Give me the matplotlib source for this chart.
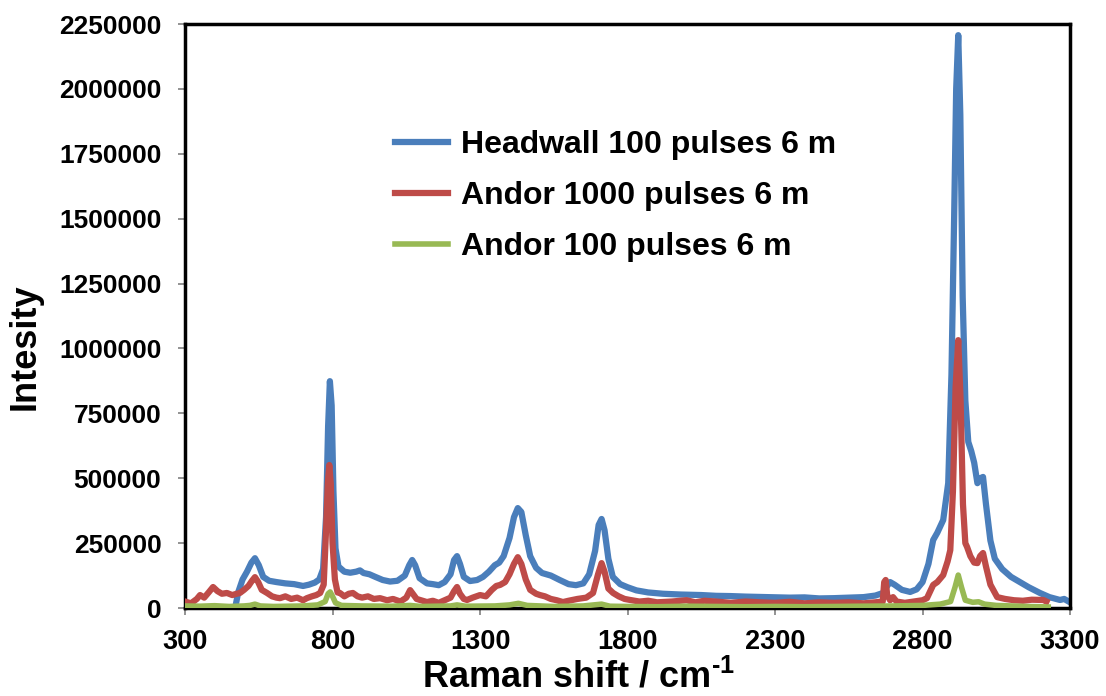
import matplotlib.pyplot as plt
from matplotlib.ticker import FuncFormatter

plt.rcParams['font.family'] = ['Liberation Sans', 'DejaVu Sans']
plt.rcParams['font.weight'] = 'bold'
plt.rcParams['mathtext.fontset'] = 'custom'
plt.rcParams['mathtext.rm'] = 'Liberation Sans:bold'
plt.rcParams['mathtext.bf'] = 'Liberation Sans:bold'

# Spectra, Raman shift (cm-1) and intensity (thousands of counts)
headwall_x = [300, 350, 400, 450, 470, 480, 495, 510, 525, 537, 550, 565, 585, 610, 640, 670,
              700, 720, 740, 755, 768, 778, 785, 791, 797, 803, 810, 820, 840, 860, 880, 893,
              905, 925, 945, 970, 995, 1020, 1045, 1060, 1070, 1080, 1095, 1120, 1140, 1160,
              1180, 1200, 1212, 1222, 1232, 1245, 1266, 1290, 1310, 1330, 1350, 1365, 1380,
              1400, 1415, 1428, 1440, 1455, 1470, 1490, 1510, 1540, 1570, 1600, 1625, 1650,
              1670, 1690, 1702, 1712, 1722, 1735, 1750, 1775, 1800, 1830, 1870, 1920, 1980,
              2050, 2100, 2150, 2200, 2273, 2350, 2400, 2450, 2500, 2550, 2600, 2640, 2666,
              2680, 2690, 2705, 2730, 2758, 2780, 2800, 2820, 2836, 2850, 2870, 2887, 2898,
              2907, 2914, 2921, 2928, 2936, 2945, 2955, 2965, 2975, 2986, 2996, 3005, 3015,
              3030, 3045, 3070, 3100, 3130, 3160, 3198, 3230, 3266, 3280, 3300]
headwall_y = [-5, -8, -5, -5, 0, 60, 110, 140, 175, 192, 165, 120, 105, 100, 95, 92,
              85, 90, 98, 110, 150, 350, 700, 874, 780, 450, 230, 160, 140, 136, 140, 145,
              135, 130, 120, 108, 102, 105, 125, 165, 185, 165, 115, 95, 92, 88,
              100, 130, 185, 200, 170, 120, 104, 108, 120, 140, 165, 175, 200,
              270, 350, 385, 370, 280, 200, 155, 135, 125, 108, 92, 88, 95,
              130, 220, 320, 343, 300, 190, 120, 92, 80, 68, 60, 55, 52,
              50, 47, 46, 44, 42, 40, 41, 37, 38, 40, 42, 48, 58,
              85, 100, 90, 70, 62, 72, 100, 170, 262, 290, 339, 481, 900,
              1500, 2000, 2207, 1900, 1200, 800, 640, 605, 560, 481, 500, 505, 400,
              260, 190, 150, 120, 100, 80, 58, 42, 31, 35, 22]

andor1000_x = [300, 320, 340, 351, 365, 380, 395, 410, 425, 442, 460, 475, 486, 500, 515, 527,
               537, 548, 560, 578, 595, 610, 622, 640, 660, 680, 700, 713, 730, 745, 758, 770,
               778, 784, 789, 794, 800, 808, 817, 825, 840, 855, 869, 885, 900, 920, 940, 961,
               985, 1005, 1030, 1050, 1063, 1072, 1085, 1100, 1120, 1140, 1160, 1180, 1200,
               1212, 1222, 1232, 1245, 1256, 1275, 1300, 1320, 1340, 1355, 1368, 1385, 1400,
               1415, 1428, 1440, 1455, 1470, 1490, 1503, 1520, 1540, 1560, 1581, 1600, 1630,
               1660, 1683, 1700, 1712, 1722, 1735, 1751, 1770, 1790, 1809, 1840, 1870, 1900,
               1950, 2000, 2030, 2060, 2100, 2150, 2200, 2250, 2300, 2350, 2400, 2450, 2500,
               2550, 2600, 2640, 2665, 2670, 2675, 2680, 2690, 2700, 2712, 2740, 2770, 2800,
               2815, 2836, 2850, 2870, 2885, 2894, 2903, 2912, 2921, 2929, 2937, 2945, 2951,
               2962, 2975, 2986, 2995, 3005, 3015, 3030, 3053, 3080, 3110, 3140, 3170, 3209,
               3220]
andor1000_y = [25, 18, 35, 50, 40, 60, 81, 65, 55, 58, 50, 55, 58, 70, 85, 105,
               119, 100, 70, 58, 45, 40, 38, 45, 35, 40, 30, 38, 45, 50, 58, 90,
               300, 480, 551, 480, 250, 110, 60, 58, 45, 55, 58, 45, 40, 45, 35, 38,
               30, 35, 25, 40, 69, 55, 35, 30, 23, 28, 20, 30, 40,
               65, 81, 55, 35, 31, 40, 50, 45, 70, 85, 89, 100, 130,
               170, 196, 170, 110, 70, 55, 50, 45, 35, 30, 23, 28, 35,
               40, 58, 130, 173, 140, 75, 58, 45, 35, 31, 25, 28, 22,
               25, 30, 22, 28, 25, 20, 25, 22, 20, 24, 18, 22, 20,
               22, 18, 22, 25, 100, 108, 50, 30, 42, 25, 20, 25, 30,
               38, 89, 100, 127, 180, 223, 450, 850, 1032, 800, 400, 250, 235,
               200, 175, 173, 200, 212, 160, 90, 42, 35, 30, 28, 32, 31,
               25]

andor100_x = [300, 350, 400, 450, 500, 520, 537, 555, 600, 650, 700, 750, 775, 785, 792, 800,
              810, 830, 900, 1000, 1063, 1100, 1200, 1222, 1250, 1350, 1400, 1430, 1460, 1550,
              1650, 1712, 1740, 1800, 1900, 2000, 2100, 2200, 2300, 2400, 2500, 2600, 2700,
              2800, 2860, 2895, 2910, 2921, 2932, 2945, 2970, 2990, 3010, 3050, 3100, 3150,
              3200, 3226]
andor100_y = [8, 7, 9, 6, 8, 10, 15, 8, 6, 7, 8, 12, 25, 55, 62, 45,
              20, 10, 8, 7, 10, 6, 8, 12, 7, 8, 12, 18, 10, 6,
              8, 15, 7, 6, 5, 7, 6, 5, 6, 5, 6, 7, 8,
              10, 15, 25, 80, 127, 80, 30, 22, 24, 15, 10, 8, 6,
              5, 4]

zero_x = [300, 3226]
zero_y = [0, 0]

fig = plt.figure(figsize=(11.06, 6.96), dpi=100)
ax = fig.add_axes([0.1673, 0.1264, 0.8002, 0.8391])

ax.plot(zero_x, zero_y, color='black', linewidth=1.5, zorder=1)
ax.plot(headwall_x, [v * 1000 for v in headwall_y], color='#4A7EBB', linewidth=4.5,
        label='Headwall 100 pulses 6 m', zorder=2)
ax.plot(andor1000_x, [v * 1000 for v in andor1000_y], color='#BE4B48', linewidth=4.5,
        label='Andor 1000 pulses 6 m', zorder=3)
ax.plot(andor100_x, [v * 1000 for v in andor100_y], color='#98B954', linewidth=4.0,
        label='Andor 100 pulses 6 m', zorder=4)

ax.set_xlim(300, 3300)
ax.set_ylim(0, 2250000)
ax.set_xticks(range(300, 3301, 500))
ax.set_yticks(range(0, 2250001, 250000))
ax.yaxis.set_major_formatter(FuncFormatter(lambda v, pos: f'{int(v)}'))
ax.tick_params(axis='both', direction='out', length=5, width=1.2, color='#808080')
ax.tick_params(axis='y', labelsize=19, pad=12)
ax.tick_params(axis='x', labelsize=19.5, pad=10)

for spine in ax.spines.values():
    spine.set_linewidth(2.5)
    spine.set_color('black')

ax.set_xlabel(r'Raman shift / cm$^{\text{-1}}$', fontsize=26, fontweight='bold')
ax.xaxis.set_label_coords(0.445, -0.088)
ax.set_ylabel('Intesity', fontsize=26, fontweight='bold')
ax.yaxis.set_label_coords(-0.161, 0.447)

ax.legend(loc='upper left', bbox_to_anchor=(0.346, 0.832), bbox_transform=fig.transFigure,
          frameon=False, fontsize=23, handlelength=1.65, handletextpad=0.4,
          labelspacing=0.66, borderaxespad=0)

fig.savefig('out.png', dpi=100)
